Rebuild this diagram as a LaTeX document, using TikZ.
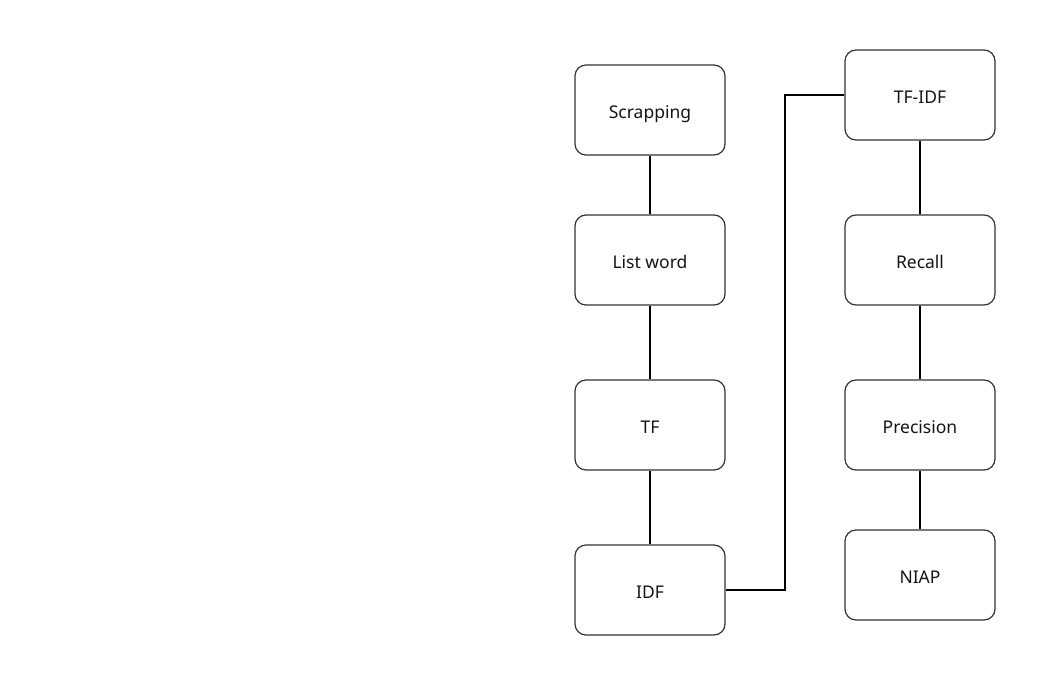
\documentclass[tikz,border=0pt]{standalone}
\usepackage{fontspec}
\setmainfont{Noto Sans}
\begin{document}
\begin{tikzpicture}[x=1pt,y=-1pt,
  box/.style={draw=black!80,line width=1.2pt,rounded corners=11pt,minimum width=150pt,minimum height=90pt,inner sep=0pt,text height=16pt,text depth=0pt,font=\fontsize{17.5}{21}\selectfont,text=black!92},
  link/.style={draw=black,line width=1.3pt}]
\useasboundingbox[fill=white] (0,0) rectangle (1045,685);
\node[box] (scr) at (650,110) {Scrapping};
\node[box] (lw) at (650,260) {List word};
\node[box] (tf) at (650,425) {TF};
\node[box] (idf) at (650,590) {IDF};
\node[box] (tfidf) at (920,95) {TF-IDF};
\node[box] (rec) at (920,260) {Recall};
\node[box] (pre) at (920,425) {Precision};
\node[box] (niap) at (920,575) {NIAP};
\coordinate (b1) at (785,590);
\coordinate (b2) at (785,95);
\draw[link] (scr) -- (lw);
\draw[link] (lw) -- (tf);
\draw[link] (tf) -- (idf);
\draw[link] (idf.east) -- (b1) -- (b2) -- (tfidf.west);
\draw[link] (tfidf) -- (rec);
\draw[link] (rec) -- (pre);
\draw[link] (pre) -- (niap);
\end{tikzpicture}
\end{document}
